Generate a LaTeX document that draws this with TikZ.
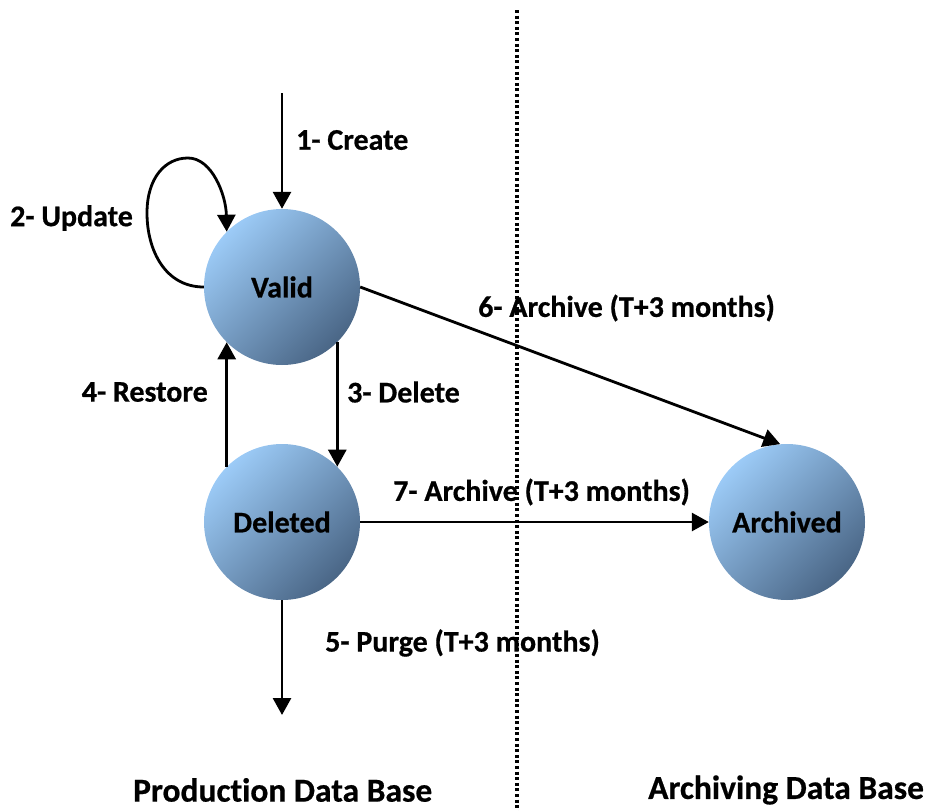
\documentclass[tikz,border=0pt]{standalone}
\usepackage{fontspec}
\setmainfont{Carlito}[Ligatures=CommonOff,BoldFeatures={FakeBold=0.6}]
\usetikzlibrary{arrows.meta}
\definecolor{cLight}{HTML}{9CCBF7}
\definecolor{cDark}{HTML}{4A6686}
\begin{document}
\begin{tikzpicture}[x=1pt,y=-1pt,
  state/.style={circle,minimum size=156pt,inner sep=0pt,top color=cLight,bottom color=cDark,shading angle=45,
    font=\fontsize{30}{36}\selectfont\bfseries},
  lbl/.style={inner sep=0pt,font=\fontsize{30}{36}\selectfont\bfseries},
  big/.style={inner sep=0pt,font=\fontsize{33.5}{40}\selectfont\bfseries},
  conn/.style={line width=2.8pt,-{Triangle[length=17pt,width=18pt]}},
  sep/.style={line width=3.4pt,dash pattern=on 3pt off 2.6pt}]
\useasboundingbox (0,0) rectangle (930,811);
\node[state] (valid) at (282,287) {Valid};
\node[state] (deleted) at (282,522) {Deleted};
\node[state] (archived) at (787,522) {Archived};
\coordinate (ctop) at (282,93);
\coordinate (pend) at (282,715);
\coordinate (septop) at (517,10);
\coordinate (sepbot) at (517,811);
\draw[sep] (septop) -- (sepbot);
\draw[conn] (ctop) -- (valid.north);
\draw[conn] (valid.west) .. controls (165,287) and (147,250) .. (147,213) .. controls (147,178) and (165,158) .. (188,158) .. controls (212,158) and (226,195) .. (valid.135);
\draw[conn] (valid.-45) -- (deleted.45);
\draw[conn] (deleted.135) -- (valid.-135);
\draw[conn] (deleted.south) -- (pend);
\draw[conn] (valid.east) -- (archived.95);
\draw[conn] (deleted.east) -- (archived.west);
\node[lbl,anchor=west] (l1) at (296,140) {1- Create};
\node[lbl,anchor=west] (l2) at (10,218) {2- Update};
\node[lbl,anchor=west] (l3) at (347,392) {3- Delete};
\node[lbl,anchor=east] (l4) at (208,392) {4- Restore};
\node[lbl,anchor=west] (l5) at (325,643) {5- Purge (T+3 months)};
\node[lbl,anchor=west] (l6) at (478,308) {6- Archive (T+3 months)};
\node[lbl,anchor=west] (l7) at (393,492) {7- Archive (T+3 months)};
\node[big,anchor=west] (prod) at (133,790) {Production Data Base};
\node[big,anchor=west] (arch) at (648,790) {Archiving Data Base};
\end{tikzpicture}
\end{document}
